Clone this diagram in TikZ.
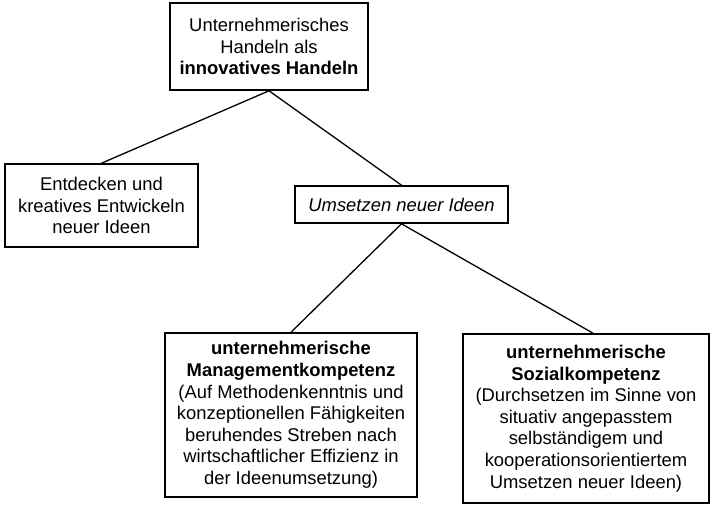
\documentclass[tikz,border=0pt]{standalone}
\usepackage{fontspec}
\setmainfont{Liberation Sans}
\begin{document}
\begin{tikzpicture}[x=1pt,y=-1pt,
  box/.style={draw, line width=1.6pt, inner sep=0pt, align=center,
    font=\fontsize{18.4}{21.6}\selectfont},
  link/.style={line width=1.3pt}]
\useasboundingbox (0,0) rectangle (711,506);
\node[box, minimum width=198pt, minimum height=87pt] (top) at (269,46.5)
  {Unternehmerisches\\Handeln als\\\textbf{innovatives Handeln}};
\node[box, minimum width=193pt, minimum height=83pt] (left) at (101.5,205.5)
  {Entdecken und\\kreatives Entwickeln\\neuer Ideen};
\node[box, minimum width=213pt, minimum height=37pt, font=\fontsize{18.4}{21.6}\selectfont\itshape] (ums) at (401.5,204.5)
  {Umsetzen neuer Ideen};
\node[box, minimum width=252pt, minimum height=164pt] (mgmt) at (291,415)
  {\textbf{unternehmerische}\\\textbf{Managementkompetenz}\\(Auf Methodenkenntnis und\\konzeptionellen Fähigkeiten\\beruhendes Streben nach\\wirtschaftlicher Effizienz in\\der Ideenumsetzung)};
\node[box, minimum width=246pt, minimum height=169pt] (sozial) at (586,418.5)
  {\textbf{unternehmerische}\\\textbf{Sozialkompetenz}\\(Durchsetzen im Sinne von\\situativ angepasstem\\selbständigem und\\kooperationsorientiertem\\Umsetzen neuer Ideen)};
\draw[link] (top.south) -- (left.north);
\draw[link] (top.south) -- (ums.north);
\draw[link] (ums.south) -- (mgmt.north);
\draw[link] (ums.south) -- ([xshift=7pt]sozial.north);
\end{tikzpicture}
\end{document}
